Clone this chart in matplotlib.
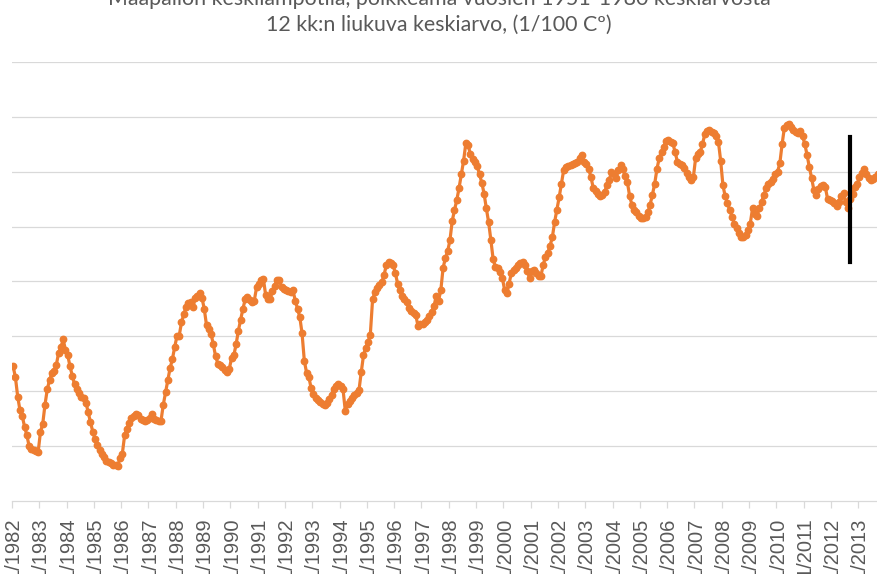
import numpy as np
import matplotlib
matplotlib.use("Agg")
import matplotlib.pyplot as plt
from matplotlib.ticker import FixedLocator

title_line1 = "Maapallon keskilämpötila, poikkeama vuosien 1951-1980 keskiarvosta"
title_line2 = "12 kk:n liukuva keskiarvo, (1/100 C\u00ba)"

years = list(range(1982, 2014))

v1982 = [24.5, 22.5, 19.0, 16.5, 15.5, 13.5, 12.0, 10.0, 9.5, 9.3, 9.1, 8.9]
v1983 = [12.5, 14.0, 17.5, 20.3, 22.0, 23.2, 23.6, 24.8, 27.0, 28.0, 29.4, 27.5]
v1984 = [26.5, 24.5, 22.8, 21.2, 20.3, 19.6, 19.0, 18.7, 17.9, 16.1, 14.3, 12.6]
v1985 = [11.2, 10.2, 9.2, 8.6, 7.9, 7.3, 7.0, 6.8, 6.6, 6.5, 6.4, 7.8]
v1986 = [8.6, 11.9, 13.1, 14.2, 15.0, 15.4, 15.9, 15.6, 14.9, 14.8, 14.6, 14.8]
v1987 = [15.1, 15.8, 14.9, 14.7, 14.6, 14.6, 17.5, 19.8, 22.0, 24.2, 25.8, 28.0]
v1988 = [30.0, 30.1, 32.5, 34.0, 35.3, 36.0, 36.2, 35.3, 36.9, 37.4, 37.8, 37.0]
v1989 = [35.0, 32.0, 31.3, 30.4, 28.5, 26.3, 25.0, 24.7, 24.3, 23.8, 23.4, 24.0]
v1990 = [26.0, 26.5, 28.5, 31.0, 33.0, 35.0, 36.7, 37.1, 36.6, 36.2, 36.5, 38.9]
v1991 = [39.6, 40.2, 40.5, 37.5, 36.8, 36.8, 38.3, 39.2, 40.2, 40.3, 38.9, 38.6]
v1992 = [38.4, 38.2, 38.0, 38.4, 36.5, 35.0, 33.5, 30.5, 25.5, 23.3, 22.5, 20.5]
v1993 = [19.5, 18.8, 18.4, 18.0, 17.6, 17.4, 17.9, 18.6, 19.3, 20.4, 21.0, 21.2]
v1994 = [20.9, 20.3, 16.4, 17.7, 18.2, 18.8, 19.2, 19.6, 20.1, 23.4, 26.5, 27.9]
v1995 = [29.0, 30.3, 36.7, 38.0, 38.7, 39.3, 39.8, 41.1, 42.9, 43.5, 43.4, 43.0]
v1996 = [41.5, 39.6, 38.5, 37.3, 36.8, 36.3, 35.2, 34.6, 34.2, 33.8, 31.8, 32.2]
v1997 = [32.3, 32.5, 33.0, 33.6, 34.5, 35.5, 37.4, 36.5, 38.4, 42.5, 44.2, 45.5]
v1998 = [47.5, 51.0, 53.0, 54.8, 57.0, 59.5, 62.0, 65.2, 64.8, 63.2, 62.3, 61.8]
v1999 = [61.0, 59.5, 58.0, 56.0, 53.3, 50.8, 47.5, 44.0, 42.6, 42.4, 41.7, 40.7]
v2000 = [38.5, 37.8, 39.6, 41.5, 42.0, 42.4, 43.0, 43.3, 43.6, 43.0, 41.8, 40.7]
v2001 = [41.8, 42.0, 41.5, 41.0, 41.0, 43.0, 44.5, 45.2, 46.5, 48.0, 50.8, 53.0]
v2002 = [55.3, 57.8, 60.3, 60.9, 61.0, 61.2, 61.4, 61.6, 61.7, 62.5, 63.0, 61.8]
v2003 = [61.4, 60.5, 59.0, 57.0, 56.5, 56.0, 55.5, 55.8, 56.3, 57.5, 58.5, 59.9]
v2004 = [59.5, 58.8, 60.3, 61.2, 60.5, 59.2, 58.1, 55.5, 54.0, 53.0, 52.6, 52.0]
v2005 = [51.5, 51.5, 51.8, 52.6, 54.0, 55.8, 57.8, 60.5, 62.5, 63.5, 64.5, 65.6]
v2006 = [65.8, 65.4, 65.2, 63.5, 61.8, 61.4, 61.2, 60.6, 59.8, 59.0, 58.4, 59.0]
v2007 = [62.5, 63.2, 63.6, 65.0, 66.8, 67.4, 67.6, 67.3, 67.0, 66.5, 65.5, 62.0]
v2008 = [57.5, 55.5, 54.2, 53.0, 51.8, 50.5, 49.8, 48.8, 48.0, 48.0, 48.4, 49.3]
v2009 = [50.5, 53.3, 52.2, 52.0, 53.3, 54.5, 55.8, 57.0, 57.8, 58.1, 58.6, 59.5]
v2010 = [60.0, 61.5, 65.0, 68.0, 68.5, 68.7, 68.2, 67.6, 67.2, 67.0, 67.4, 66.5]
v2011 = [65.0, 63.0, 60.8, 58.8, 56.6, 55.7, 56.8, 57.3, 57.5, 57.2, 55.0, 54.8]
v2012 = [54.6, 54.2, 53.8, 54.5, 55.5, 56.1, 54.5, 53.3, 55.0, 56.0, 57.2, 57.8]
v2013 = [59.0, 59.8, 60.4, 59.6, 58.8, 58.4, 58.6, 59.0, 59.6, 60.0]

marker_month = 368            # month index of vertical black marker (Sep 2012)
marker_range = [43.5, 66.3]    # its vertical extent in data units

values = (v1982 + v1983 + v1984 + v1985 + v1986 + v1987 + v1988 + v1989 + v1990 +
          v1991 + v1992 + v1993 + v1994 + v1995 + v1996 + v1997 + v1998 + v1999 +
          v2000 + v2001 + v2002 + v2003 + v2004 + v2005 + v2006 + v2007 + v2008 +
          v2009 + v2010 + v2011 + v2012 + v2013)
x = np.arange(len(values))

W, H = 878, 574
fig = plt.figure(figsize=(W / 100, H / 100), dpi=100)
ax = fig.add_axes([12 / W, 1 - 500.7 / H, (W - 12) / W, (500.7 - 62) / H])

grid_c = "#D9D9D9"
text_c = "#595959"
orange = "#ED7D31"

ax.plot(x, values, color=orange, lw=2.3, marker="o", ms=4.6, mec=orange, mfc=orange,
        solid_joinstyle="round", zorder=3, clip_on=True)
ax.plot([marker_month, marker_month], marker_range, color="black", lw=3.0, zorder=4)

ax.set_ylim(0, 80)
ax.set_xlim(-0.5, -0.5 + (W - 12) / 2.275)
ax.set_yticks(np.arange(10, 81, 10))
ax.yaxis.grid(True, color=grid_c, lw=0.9)
ax.set_axisbelow(True)
ax.tick_params(axis="y", left=False, labelleft=False)

for s in ["left", "right", "top"]:
    ax.spines[s].set_visible(False)
ax.spines["bottom"].set_color(grid_c)
ax.spines["bottom"].set_linewidth(0.9)

label_pos = [12 * k for k in range(len(years))]
ax.set_xticks(label_pos)
ax.set_xticklabels([f"1/{y}" for y in years], rotation=90, fontsize=14.5,
                   family="Liberation Sans", color=text_c, va="top", ha="center")
ax.tick_params(axis="x", which="major", length=0, pad=12)
ax.xaxis.set_minor_locator(FixedLocator([12 * k - 0.5 for k in range(len(years) + 1)]))
ax.tick_params(axis="x", which="minor", length=5, color=grid_c, width=0.9)

fig.text(0.5, 1 - 5 / H, title_line1, ha="center", va="baseline", fontsize=15.4,
         family="Lato", color=text_c)
fig.text(0.5, 1 - 31 / H, title_line2, ha="center", va="baseline", fontsize=15.4,
         family="Lato", color=text_c)

fig.savefig("out.png", dpi=100)
